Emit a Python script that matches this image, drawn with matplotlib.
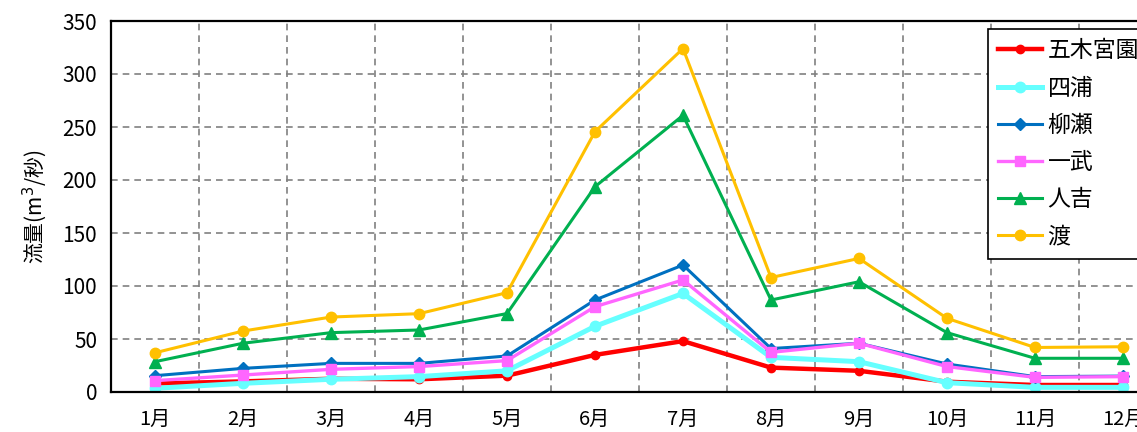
import numpy as np
import matplotlib.pyplot as plt
from matplotlib.ticker import MultipleLocator

plt.rcParams['font.family'] = ['Noto Sans CJK JP', 'DejaVu Sans']

months = ["1月", "2月", "3月", "4月", "5月", "6月", "7月", "8月", "9月", "10月", "11月", "12月"]

# 流量 (m3/秒) per station
itsuki = [8, 10, 12.5, 12, 15.4, 35, 48, 23, 20, 9.7, 6.6, 6.6]
yotsuura = [3.5, 8.2, 12, 14.5, 20, 62, 93, 32.7, 28.6, 8.8, 4.4, 4.4]
yanase = [15.4, 22.3, 27, 27, 34, 86.8, 119.8, 41, 46, 26.4, 14.5, 15]
ichibu = [10.7, 16, 21.4, 24, 29.6, 80.5, 105.7, 37.4, 46, 24, 13.8, 14.5]
hitoyoshi = [28.6, 46, 56, 58.5, 74, 193.7, 261, 86.8, 104, 56, 31.8, 31.8]
watari = [37, 57.5, 70.7, 73.9, 93.7, 245.6, 324, 108, 126, 69.5, 42, 42.7]

series = [
    ("五木宮園", itsuki, "#FF0000", "o", 3.2, 6),
    ("四浦", yotsuura, "#66FFFF", "o", 3.6, 7.5),
    ("柳瀬", yanase, "#0070C0", "D", 2.2, 6),
    ("一武", ichibu, "#FF66FF", "s", 2.4, 7),
    ("人吉", hitoyoshi, "#00B050", "^", 2.2, 8),
    ("渡", watari, "#FFC000", "o", 2.2, 7.5),
]

fig = plt.figure(figsize=(11.37, 4.32), dpi=100)
# axes extends past the right edge like the original (cropped chart)
ax = fig.add_axes([111 / 1137, 40 / 432, 1056 / 1137, 371 / 432])

x = np.arange(len(months))
for name, vals, color, marker, lw, ms in series:
    ax.plot(x, vals, color=color, marker=marker, lw=lw, ms=ms, label=name,
            markeredgecolor=color)

ax.set_xlim(-0.5, len(months) - 0.5)
ax.set_ylim(0, 350)
ax.yaxis.set_major_locator(MultipleLocator(50))
ax.set_xticks(x)
ax.set_xticklabels(months)
ax.set_xticks(np.arange(0.5, len(months) - 0.5, 1), minor=True)
ax.tick_params(axis='x', which='both', length=0, labelsize=14.5, pad=12)
ax.tick_params(axis='y', length=0, labelsize=15, pad=10)

ax.grid(True, axis='y', which='major', color='#808080', ls=(0, (4, 3)), lw=1.2)
ax.grid(True, axis='x', which='minor', color='#808080', ls=(0, (4, 3)), lw=1.2)
ax.set_axisbelow(True)
for sp in ax.spines.values():
    sp.set_color('black')
    sp.set_linewidth(1.6)

ax.set_ylabel("流量(m$^3$/秒)", fontsize=15, labelpad=10)

leg = ax.legend(loc='upper left', bbox_to_anchor=(0.8305, 0.978), borderaxespad=0,
                fontsize=16.5, frameon=True, fancybox=False, edgecolor='black',
                framealpha=1, handlelength=1.9, labelspacing=0.62, borderpad=0.45,
                handletextpad=0.25)
leg.get_frame().set_linewidth(1.2)

fig.savefig("out.png", dpi=100)
